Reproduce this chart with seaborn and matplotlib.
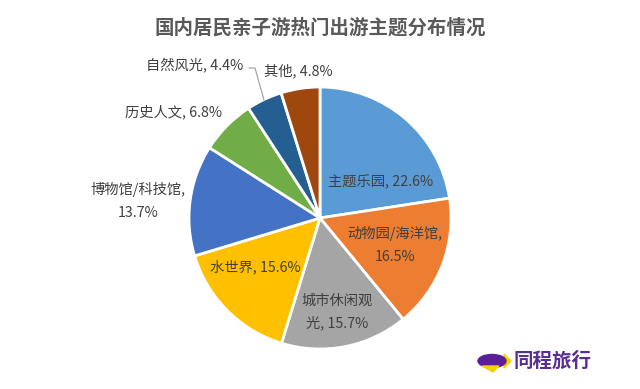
import matplotlib
matplotlib.use("Agg")
import matplotlib.pyplot as plt
from matplotlib.patches import Ellipse, Polygon
import seaborn as sns

# Data
categories = ["主题乐园", "动物园/海洋馆", "城市休闲观光", "水世界",
              "博物馆/科技馆", "历史人文", "自然风光", "其他"]
shares = [22.6, 16.5, 15.7, 15.6, 13.7, 6.8, 4.4, 4.8]
colors = ["#5B9BD5", "#ED7D31", "#A5A5A5", "#FFC000",
          "#4472C4", "#70AD47", "#255E91", "#9E480E"]
label_text = ["主题乐园, 22.6%", "动物园/海洋馆,\n16.5%", "城市休闲观\n光, 15.7%",
              "水世界, 15.6%", "博物馆/科技馆,\n13.7%", "历史人文, 6.8%",
              "自然风光, 4.4%", "其他, 4.8%"]
# label anchor positions in pixels (x, y from top)
label_px = [(381, 182), (395, 245), (337, 312), (255, 267),
            (138, 201), (173, 112), (195, 65), (298, 71)]

sns.set_theme(style="white")
plt.rcParams["font.family"] = ["Noto Sans CJK SC", "DejaVu Sans"]

W, H = 640, 389
fig = plt.figure(figsize=(W / 100, H / 100), dpi=100)
fig.patch.set_facecolor("white")

cx, cy, r = 320, 218, 131
ax = fig.add_axes([(cx - r) / W, (H - cy - r) / H, 2 * r / W, 2 * r / H])
ax.pie(shares, colors=colors, startangle=90, counterclock=False, radius=1,
       wedgeprops=dict(edgecolor="white", linewidth=2))
ax.set_xlim(-1, 1)
ax.set_ylim(-1, 1)
ax.set_aspect("auto")
ax.axis("off")


def to_data(px, py):
    return (px - cx) / r, (cy - py) / r


for txt, (px, py) in zip(label_text, label_px):
    x, y = to_data(px, py)
    ax.text(x, y, txt, ha="center", va="center", fontsize=10.3,
            color="#404040", linespacing=1.75, clip_on=False)

# leader line for 自然风光
pts = [to_data(249, 68), to_data(255, 68), to_data(264, 100)]
ax.plot([p[0] for p in pts], [p[1] for p in pts], color="#A6A6A6",
        linewidth=0.9, clip_on=False)

fig.text(0.5, 1 - 28 / H, "国内居民亲子游热门出游主题分布情况", ha="center",
         va="center", fontsize=14, fontweight="bold", color="#595959")

# logo
lax = fig.add_axes([0, 0, 1, 1], zorder=5)
lax.set_xlim(0, W)
lax.set_ylim(H, 0)
lax.axis("off")
lax.add_patch(Polygon([[504, 354], [511, 361], [504, 368]], closed=True,
                      color="#F5D000"))
lax.add_patch(Ellipse((492, 361), 28, 13, color="#5A1E96"))
lax.add_patch(Polygon([[482, 366], [499, 366], [493, 372]], closed=True,
                      color="#F5D000"))
fig.text(514 / W, 1 - 361 / H, "同程旅行", ha="left", va="center",
         fontsize=14, fontweight="bold", color="#5A2D91", style="italic")

fig.savefig("out.png", dpi=100)
